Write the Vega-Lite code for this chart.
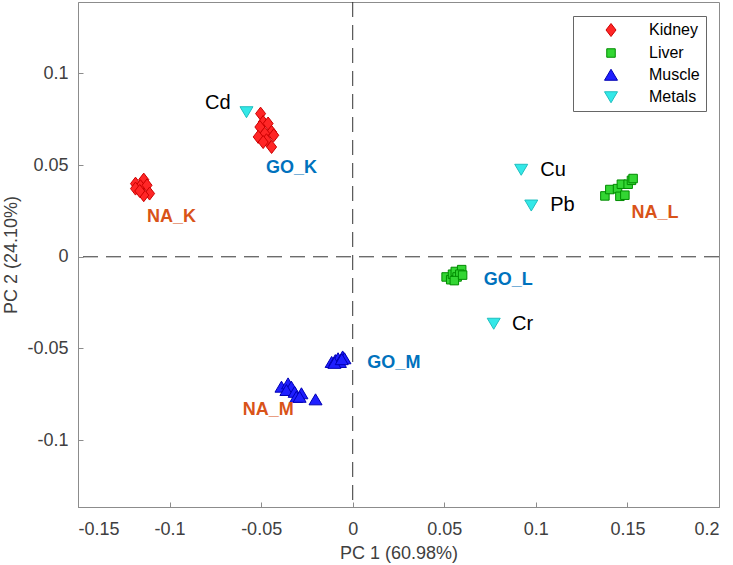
{
  "$schema": "https://vega.github.io/schema/vega-lite/v6.json",
  "width": 641,
  "height": 505,
  "autosize": {"type": "none"},
  "padding": {"left": 78, "top": 2, "right": 14, "bottom": 58},
  "background": "white",
  "config": {
    "font": "Liberation Sans",
    "view": {"stroke": "#8c8c8c", "strokeWidth": 1},
    "axis": {
      "domainColor": "#8c8c8c",
      "tickColor": "#8c8c8c",
      "labelColor": "#404040",
      "titleColor": "#404040",
      "labelFont": "Liberation Sans",
      "titleFont": "Liberation Sans",
      "labelFontSize": 18,
      "titleFontSize": 18,
      "titleFontWeight": "normal",
      "grid": false,
      "tickSize": -5
    },
    "legend": {
      "orient": "none",
      "legendX": 495,
      "legendY": 14,
      "padding": 6,
      "strokeColor": "#666666",
      "fillColor": "white",
      "symbolOffset": 24,
      "labelOffset": 30,
      "labelFontSize": 16,
      "labelColor": "#000000",
      "labelFont": "Liberation Sans",
      "rowPadding": 6,
      "symbolStrokeWidth": 1,
      "symbolSize": 100,
      "title": null
    }
  },
  "datasets": {
    "pts": [
      {"group": "Kidney", "pc1": -0.1186, "pc2": 0.0399},
      {"group": "Kidney", "pc1": -0.1141, "pc2": 0.0421},
      {"group": "Kidney", "pc1": -0.1159, "pc2": 0.0385},
      {"group": "Kidney", "pc1": -0.1123, "pc2": 0.039},
      {"group": "Kidney", "pc1": -0.1109, "pc2": 0.0345},
      {"group": "Kidney", "pc1": -0.1141, "pc2": 0.0336},
      {"group": "Kidney", "pc1": -0.1186, "pc2": 0.0372},
      {"group": "Kidney", "pc1": -0.1163, "pc2": 0.0359},
      {"group": "Kidney", "pc1": -0.0503, "pc2": 0.0781},
      {"group": "Kidney", "pc1": -0.0489, "pc2": 0.0735},
      {"group": "Kidney", "pc1": -0.0462, "pc2": 0.0727},
      {"group": "Kidney", "pc1": -0.0507, "pc2": 0.0708},
      {"group": "Kidney", "pc1": -0.0443, "pc2": 0.0681},
      {"group": "Kidney", "pc1": -0.048, "pc2": 0.0672},
      {"group": "Kidney", "pc1": -0.0431, "pc2": 0.0663},
      {"group": "Kidney", "pc1": -0.0516, "pc2": 0.0654},
      {"group": "Kidney", "pc1": -0.0471, "pc2": 0.0636},
      {"group": "Kidney", "pc1": -0.0443, "pc2": 0.0599},
      {"group": "Kidney", "pc1": -0.0489, "pc2": 0.0626},
      {"group": "Liver", "pc1": 0.1377, "pc2": 0.0332},
      {"group": "Liver", "pc1": 0.1404, "pc2": 0.0367},
      {"group": "Liver", "pc1": 0.1446, "pc2": 0.0372},
      {"group": "Liver", "pc1": 0.1459, "pc2": 0.033},
      {"group": "Liver", "pc1": 0.1486, "pc2": 0.0336},
      {"group": "Liver", "pc1": 0.1467, "pc2": 0.0396},
      {"group": "Liver", "pc1": 0.1504, "pc2": 0.0396},
      {"group": "Liver", "pc1": 0.1522, "pc2": 0.0417},
      {"group": "Liver", "pc1": 0.1531, "pc2": 0.0427},
      {"group": "Liver", "pc1": 0.051, "pc2": -0.011},
      {"group": "Liver", "pc1": 0.0535, "pc2": -0.0125},
      {"group": "Liver", "pc1": 0.0545, "pc2": -0.0095},
      {"group": "Liver", "pc1": 0.056, "pc2": -0.008},
      {"group": "Liver", "pc1": 0.057, "pc2": -0.011},
      {"group": "Liver", "pc1": 0.0595, "pc2": -0.007},
      {"group": "Liver", "pc1": 0.0585, "pc2": -0.0095},
      {"group": "Liver", "pc1": 0.0555, "pc2": -0.013},
      {"group": "Liver", "pc1": 0.06, "pc2": -0.01},
      {"group": "Muscle", "pc1": -0.0389, "pc2": -0.071},
      {"group": "Muscle", "pc1": -0.0353, "pc2": -0.0692},
      {"group": "Muscle", "pc1": -0.0335, "pc2": -0.071},
      {"group": "Muscle", "pc1": -0.0362, "pc2": -0.0728},
      {"group": "Muscle", "pc1": -0.0317, "pc2": -0.0738},
      {"group": "Muscle", "pc1": -0.028, "pc2": -0.0746},
      {"group": "Muscle", "pc1": -0.0308, "pc2": -0.0765},
      {"group": "Muscle", "pc1": -0.0203, "pc2": -0.0779},
      {"group": "Muscle", "pc1": -0.029, "pc2": -0.0765},
      {"group": "Muscle", "pc1": -0.0115, "pc2": -0.0575},
      {"group": "Muscle", "pc1": -0.0095, "pc2": -0.0565},
      {"group": "Muscle", "pc1": -0.008, "pc2": -0.0555},
      {"group": "Muscle", "pc1": -0.007, "pc2": -0.0575},
      {"group": "Muscle", "pc1": -0.0055, "pc2": -0.0545},
      {"group": "Muscle", "pc1": -0.0045, "pc2": -0.0555},
      {"group": "Muscle", "pc1": -0.01, "pc2": -0.058},
      {"group": "Muscle", "pc1": -0.006, "pc2": -0.056},
      {"group": "Metals", "pc1": -0.058, "pc2": 0.079},
      {"group": "Metals", "pc1": 0.092, "pc2": 0.0476},
      {"group": "Metals", "pc1": 0.0975, "pc2": 0.0281},
      {"group": "Metals", "pc1": 0.077, "pc2": -0.0364}
    ],
    "labels": [
      {"kind": "metal", "text": "Cd", "pc1": -0.0806, "pc2": 0.0837},
      {"kind": "metal", "text": "Cu", "pc1": 0.1024, "pc2": 0.0476},
      {"kind": "metal", "text": "Pb", "pc1": 0.1078, "pc2": 0.0281},
      {"kind": "metal", "text": "Cr", "pc1": 0.087, "pc2": -0.0364},
      {"kind": "NA", "text": "NA_K", "pc1": -0.1123, "pc2": 0.0215},
      {"kind": "GO", "text": "GO_K", "pc1": -0.0474, "pc2": 0.0483},
      {"kind": "NA", "text": "NA_L", "pc1": 0.1522, "pc2": 0.0237},
      {"kind": "GO", "text": "GO_L", "pc1": 0.0716, "pc2": -0.0128},
      {"kind": "NA", "text": "NA_M", "pc1": -0.0601, "pc2": -0.0837},
      {"kind": "GO", "text": "GO_M", "pc1": 0.008, "pc2": -0.058}
    ]
  },
  "layer": [
    {
      "data": {"values": [{}]},
      "mark": {"type": "rule", "strokeDash": [15, 8], "color": "#333333", "strokeWidth": 1},
      "encoding": {"x": {"datum": 0, "type": "quantitative", "scale": {"domain": [-0.15, 0.2], "nice": false, "zero": false}}}
    },
    {
      "data": {"values": [{}]},
      "mark": {"type": "rule", "strokeDash": [15, 8], "color": "#333333", "strokeWidth": 1},
      "encoding": {"y": {"datum": 0, "type": "quantitative", "scale": {"domain": [-0.1365, 0.139], "nice": false, "zero": false}}}
    },
    {
      "data": {"name": "pts"},
      "mark": {"type": "point", "filled": true, "opacity": 1, "strokeWidth": 1, "size": 100},
      "encoding": {
        "x": {
          "field": "pc1", "type": "quantitative",
          "scale": {"domain": [-0.15, 0.2], "nice": false, "zero": false},
          "axis": {"title": "PC 1 (60.98%)", "values": [-0.15, -0.1, -0.05, 0, 0.05, 0.1, 0.15, 0.2], "labelExpr": "'' + datum.value", "labelPadding": 18, "titlePadding": 6}
        },
        "y": {
          "field": "pc2", "type": "quantitative",
          "scale": {"domain": [-0.1365, 0.139], "nice": false, "zero": false},
          "axis": {"title": "PC 2 (24.10%)", "values": [-0.1, -0.05, 0, 0.05, 0.1], "labelExpr": "'' + datum.value", "labelPadding": 15, "titlePadding": 6}
        },
        "fill": {
          "field": "group", "type": "nominal",
          "scale": {"domain": ["Kidney", "Liver", "Muscle", "Metals"], "range": ["#ff2626", "#33d633", "#1f1fff", "#33e8e8"]}
        },
        "stroke": {
          "field": "group", "type": "nominal",
          "scale": {"domain": ["Kidney", "Liver", "Muscle", "Metals"], "range": ["#cc0000", "#008c00", "#0000b3", "#1fbfbf"]}
        },
        "shape": {
          "field": "group", "type": "nominal",
          "scale": {"domain": ["Kidney", "Liver", "Muscle", "Metals"], "range": ["M-1,0L0,-1.3L1,0L0,1.3Z", "M-0.85,-0.85L0.85,-0.85L0.85,0.85L-0.85,0.85Z", "M0,-1.15L1.3,1.05L-1.3,1.05Z", "M-1.3,-1.05L1.3,-1.05L0,1.15Z"]}
        }
      }
    },
    {
      "data": {"name": "labels"},
      "transform": [{"filter": "datum.kind === 'metal'"}],
      "mark": {"type": "text", "align": "left", "baseline": "middle", "fontSize": 20, "color": "#000000"},
      "encoding": {
        "x": {"field": "pc1", "type": "quantitative"},
        "y": {"field": "pc2", "type": "quantitative"},
        "text": {"field": "text"}
      }
    },
    {
      "data": {"name": "labels"},
      "transform": [{"filter": "datum.kind !== 'metal'"}],
      "mark": {"type": "text", "align": "left", "baseline": "middle", "fontSize": 18, "fontWeight": "bold"},
      "encoding": {
        "x": {"field": "pc1", "type": "quantitative"},
        "y": {"field": "pc2", "type": "quantitative"},
        "text": {"field": "text"},
        "color": {"field": "kind", "type": "nominal", "scale": {"domain": ["NA", "GO"], "range": ["#d95319", "#0072bd"]}, "legend": null}
      }
    }
  ]
}
